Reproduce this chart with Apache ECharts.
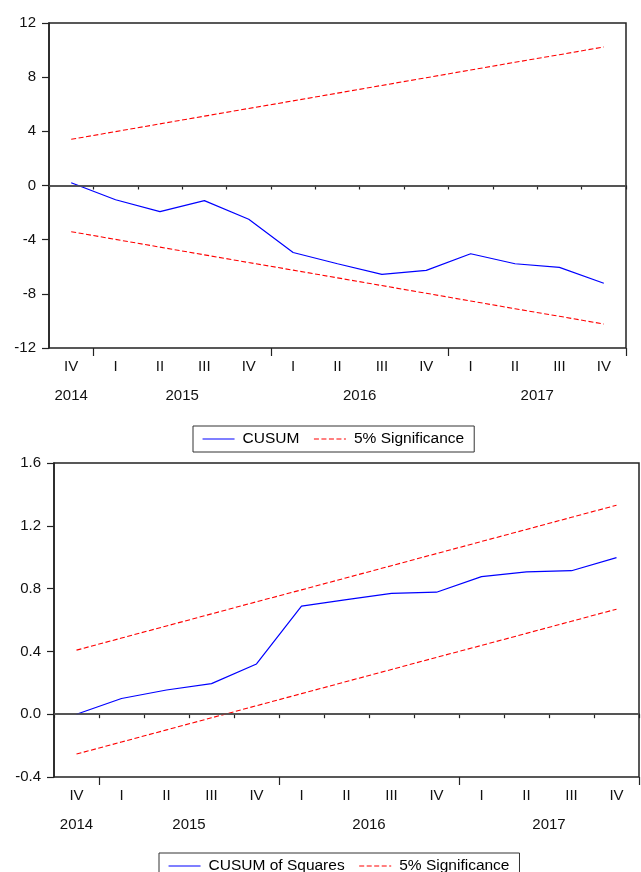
<!DOCTYPE html>
<html>
<head>
<meta charset="utf-8">
<script src="https://cdn.jsdelivr.net/npm/echarts@6/dist/echarts.min.js"></script>
<style>
html,body{margin:0;padding:0;background:#fff;}
#c{width:641px;height:872px;}
</style>
</head>
<body>
<div id="c"></div>
<script>
// ---- data ----
var quarters = ['IV','I','II','III','IV','I','II','III','IV','I','II','III','IV'];
var quarterYears = ['2014','2015','2015','2015','2015','2016','2016','2016','2016','2017','2017','2017','2017'];
var years = ['2014','2015','2016','2017'];

var cusum = [0.2, -1.05, -1.93, -1.12, -2.49, -4.95, -5.78, -6.56, -6.27, -5.04, -5.78, -6.05, -7.22];
var cusumUpper = [3.41, 3.98, 4.55, 5.12, 5.69, 6.25, 6.82, 7.39, 7.96, 8.53, 9.10, 9.66, 10.23];
var cusumLower = [-3.41, -3.98, -4.55, -5.12, -5.69, -6.25, -6.82, -7.39, -7.96, -8.53, -9.10, -9.66, -10.23];

var cusumSq = [0.0, 0.10, 0.154, 0.195, 0.32, 0.688, 0.73, 0.77, 0.777, 0.876, 0.906, 0.914, 0.997];
var sqUpper = [0.408, 0.485, 0.562, 0.639, 0.716, 0.792, 0.869, 0.946, 1.023, 1.100, 1.177, 1.254, 1.331];
var sqLower = [-0.254, -0.177, -0.100, -0.023, 0.054, 0.131, 0.208, 0.285, 0.362, 0.438, 0.515, 0.592, 0.669];

var cusumTicks = {min: -12, max: 12, interval: 4};
var sqTicks = {min: -0.4, max: 1.6, interval: 0.4};

// ---- derived year positions (in quarter units) ----
var yearCenters = [], yearBounds = [], centerToYear = {};
years.forEach(function (y) {
  var first = quarterYears.indexOf(y), last = quarterYears.lastIndexOf(y);
  var c = (first + last + 1) / 2;
  yearCenters.push(c);
  centerToYear[c] = y;
  if (first > 0) yearBounds.push(first);
});
yearBounds.push(quarters.length);

var FONT = '"Liberation Sans", Arial, sans-serif';
var AX = '#222';

function catAxis(grid) {
  return {
    type: 'category', gridIndex: grid, data: quarters, boundaryGap: true,
    axisLine: {show: true, lineStyle: {color: AX, width: 1.5}},
    axisTick: {show: true, interval: 0, length: 4, lineStyle: {color: AX, width: 1.2}},
    axisLabel: {interval: 0, margin: 11, color: '#111', fontSize: 15, fontFamily: FONT},
    splitLine: {show: false}
  };
}
function yearAxis(grid) {
  return {
    type: 'value', gridIndex: grid, min: 0, max: quarters.length, position: 'bottom', offset: 0,
    axisLine: {show: false},
    axisTick: {show: true, customValues: yearBounds, length: 8, lineStyle: {color: AX, width: 1.2}},
    axisLabel: {customValues: yearCenters, margin: 40, color: '#111', fontSize: 15, fontFamily: FONT,
      formatter: function (v) { return centerToYear[v] || ''; }},
    splitLine: {show: false}
  };
}
function valAxis(grid, t, dec) {
  return {
    type: 'value', gridIndex: grid, min: t.min, max: t.max, interval: t.interval,
    axisLine: {show: true, lineStyle: {color: AX, width: 1.5}},
    axisTick: {show: true, length: 7, lineStyle: {color: AX, width: 1.2}},
    axisLabel: {margin: 13, color: '#111', fontSize: 15, fontFamily: FONT, padding: [0, 0, 8, 0],
      formatter: function (v) { return dec ? v.toFixed(1) : String(Math.round(v)); }},
    splitLine: {show: false}
  };
}
var zeroLine = {
  silent: true, symbol: 'none', animation: false,
  label: {show: false},
  lineStyle: {color: '#555', width: 1.5, type: 'solid'},
  data: [{yAxis: 0}]
};
function line(name, data, x, y, dashed, withZero) {
  var s = {
    name: name, type: 'line', data: data, xAxisIndex: x, yAxisIndex: y,
    symbol: 'none', showSymbol: false, smooth: false,
    lineStyle: dashed ? {color: '#ff0000', width: 1.1, type: [5, 2.5]} : {color: '#0000ff', width: 1.2},
    itemStyle: {color: dashed ? '#ff0000' : '#0000ff'},
    z: dashed ? 3 : 4
  };
  if (withZero) s.markLine = zeroLine;
  return s;
}
var legendBase = {
  orient: 'horizontal', itemWidth: 32, itemHeight: 14, itemGap: 14,
  borderColor: '#333', borderWidth: 1, padding: [5, 10, 5, 9],
  itemStyle: {opacity: 0, borderWidth: 0},
  lineStyle: {width: 1.1},
  textStyle: {color: '#000', fontSize: 15.5, fontFamily: FONT, padding: [0, 0, 0, 3]},
  selectedMode: false
};

var chart = echarts.init(document.getElementById('c'), null, {renderer: 'canvas'});
chart.setOption({
  animation: false,
  backgroundColor: '#fff',
  grid: [
    {left: 49, top: 23, width: 577, height: 325, show: true, borderColor: AX, borderWidth: 1.5, backgroundColor: 'transparent'},
    {left: 54, top: 463, width: 585, height: 314, show: true, borderColor: AX, borderWidth: 1.5, backgroundColor: 'transparent'}
  ],
  xAxis: [catAxis(0), yearAxis(0), catAxis(1), yearAxis(1)],
  yAxis: [valAxis(0, cusumTicks, false), valAxis(1, sqTicks, true)],
  legend: [
    Object.assign({}, legendBase, {left: 193, top: 426, data: ['CUSUM', '5% Significance']}),
    Object.assign({}, legendBase, {left: 159, top: 853, data: ['CUSUM of Squares', '5% Significance']})
  ],
  series: [
    line('CUSUM', cusum, 0, 0, false, true),
    line('5% Significance', cusumUpper, 0, 0, true, false),
    line('5% Significance', cusumLower, 0, 0, true, false),
    line('CUSUM of Squares', cusumSq, 2, 1, false, true),
    line('5% Significance', sqUpper, 2, 1, true, false),
    line('5% Significance', sqLower, 2, 1, true, false)
  ]
});
</script>
</body>
</html>
